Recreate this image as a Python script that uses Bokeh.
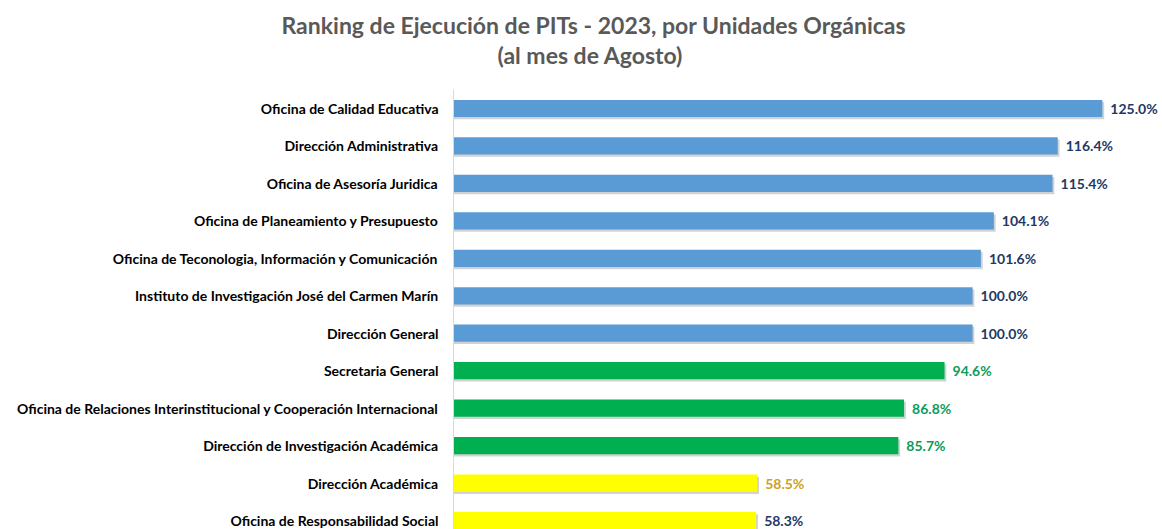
from bokeh.plotting import figure
from bokeh.models import ColumnDataSource, Range1d, FixedTicker, LabelSet, Title
from bokeh.core.properties import value
from bokeh.transform import dodge
from bokeh.embed import file_html
from bokeh.resources import INLINE

categories = [
    "Oficina de Calidad Educativa",
    "Dirección Administrativa",
    "Oficina de Asesoría Juridica",
    "Oficina de Planeamiento y Presupuesto",
    "Oficina de Teconologia, Información y Comunicación",
    "Instituto de Investigación José del Carmen Marín",
    "Dirección General",
    "Secretaria General",
    "Oficina de Relaciones Interinstitucional y Cooperación Internacional",
    "Dirección de Investigación Académica",
    "Dirección Académica",
    "Oficina de Responsabilidad Social",
]
values = [125.0, 116.4, 115.4, 104.1, 101.6, 100.0, 100.0, 94.6, 86.8, 85.7, 58.5, 58.3]
bar_colors = ["#5B9BD5"] * 7 + ["#00B050"] * 3 + ["#FFFF00"] * 2
label_colors = ["#1F3864"] * 7 + ["#0E9A58"] * 3 + ["#C9A227", "#1F3864"]
title_lines = ["Ranking de Ejecución de PITs - 2023, por Unidades Orgánicas", "(al mes de Agosto)"]

FONT = "Lato"
W, H = 1160, 529
LEFT, TOP = 453, 89

idx = list(range(len(categories)))
src = ColumnDataSource(dict(
    y=idx, value=values, color=bar_colors, lcolor=label_colors,
    label=[f"{v:.1f}%" for v in values],
))

p = figure(width=W, height=H, output_backend="svg", toolbar_location=None,
           x_range=Range1d(0, 136.2), y_range=Range1d(11.24, -0.507),
           min_border_left=LEFT, min_border_top=TOP, min_border_bottom=0, min_border_right=0)
p.outline_line_color = None
p.xgrid.visible = False
p.ygrid.visible = False
p.xaxis.visible = False

# blank spacer between the title block and the plot area
p.add_layout(Title(text=" ", text_font_size="14px", standoff=3), "above")
# title lines (left-anchored so the pair sits centred at x~590 of the page);
# panels added first sit closest to the plot, so add the second line first
offsets = [281 - LEFT, 497 - LEFT]
for line, off in reversed(list(zip(title_lines, offsets))):
    p.add_layout(Title(text=line, align="left", offset=off, text_font=FONT,
                       text_font_style="bold", text_font_size="23px",
                       text_color="#595959", standoff=0), "above")

ya = p.yaxis[0]
ya.ticker = FixedTicker(ticks=idx)
ya.major_label_overrides = {i: c for i, c in enumerate(categories)}
ya.major_tick_line_color = None
ya.minor_tick_line_color = None
ya.axis_line_color = "#D9D9D9"
ya.axis_line_width = 1
ya.major_label_text_font = FONT
ya.major_label_text_font_style = "bold"
ya.major_label_text_font_size = "14px"
ya.major_label_text_color = "#000000"
ya.major_label_standoff = 9

# drop shadows
p.hbar(y=dodge("y", 0.06, range=p.y_range), left=0, right=dodge("value", 0.35, range=p.x_range),
       height=0.46, fill_color="#7F7F7F", fill_alpha=0.35, line_color=None, source=src)
p.hbar(y="y", left=0, right="value", height=0.46, fill_color="color", line_color=None, source=src)

labels = LabelSet(x="value", y="y", text="label", source=src, x_offset=8,
                  text_baseline="middle", text_align="left", text_color="lcolor",
                  text_font=value(FONT), text_font_style="bold", text_font_size="14px")
p.add_layout(labels)

open("out.html", "w").write(file_html(p, INLINE))
